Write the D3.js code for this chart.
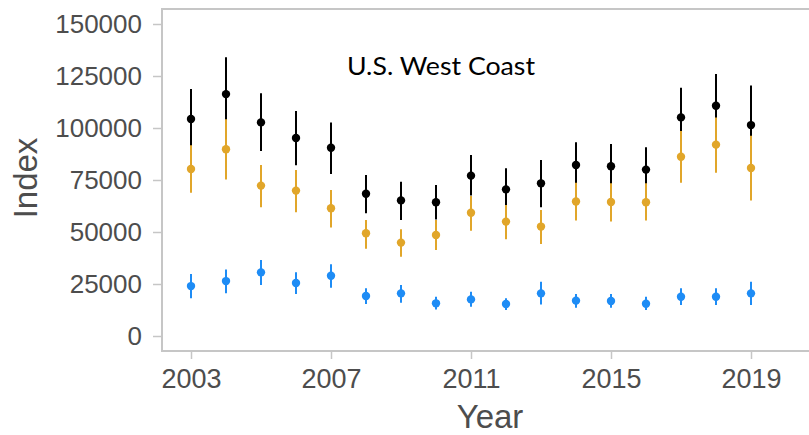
<!DOCTYPE html>
<html>
<head>
<meta charset="utf-8">
<script src="https://cdn.jsdelivr.net/npm/d3@7"></script>
<style>
  html, body { margin: 0; padding: 0; background: #fff; }
  svg { display: block; }
</style>
</head>
<body>
<svg id="chart" width="809" height="435"></svg>
<script>
const years = [2003, 2004, 2005, 2006, 2007, 2008, 2009, 2010, 2011, 2012, 2013, 2014, 2015, 2016, 2017, 2018, 2019];

const blackVal = [104300, 116300, 102700, 95200, 90500, 68400, 65200, 64300, 77100, 70500, 73400, 82200, 81600, 80000, 105100, 110700, 101400];
const blackHi  = [118800, 134000, 116700, 108200, 102700, 77400, 74200, 72600, 87000, 80600, 84600, 93100, 92300, 90700, 119400, 126000, 120400];
const blackLo  = [89900, 98600, 88900, 82100, 77900, 59000, 55800, 56000, 67500, 60400, 61900, 71300, 70800, 69300, 90900, 95500, 82500];

const goldVal = [80300, 89800, 72300, 69900, 61400, 49400, 44900, 48600, 59300, 55000, 52600, 64700, 64400, 64300, 86200, 92000, 80800];
const goldHi  = [91700, 104200, 82200, 79800, 70200, 55800, 51300, 55800, 67300, 63000, 60600, 73700, 73400, 73400, 98600, 105100, 96300];
const goldLo  = [68900, 75300, 61900, 59500, 52200, 42000, 38100, 41400, 50600, 46500, 44200, 55500, 55100, 55500, 73700, 78500, 65100];

const blueVal = [24000, 26400, 30600, 25500, 29000, 19200, 20500, 15700, 17600, 15400, 20500, 17000, 16800, 15500, 18900, 18900, 20500];
const blueHi  = [29800, 32000, 36500, 30600, 34500, 22900, 24500, 18900, 21300, 18100, 26100, 20200, 20200, 18900, 22900, 22900, 26100];
const blueLo  = [18100, 20500, 24500, 20200, 23200, 15400, 16000, 12800, 14100, 12500, 15200, 13600, 13600, 12500, 14900, 14900, 14900];

const xTicks = [2003, 2007, 2011, 2015, 2019];
const yTicks = [0, 25000, 50000, 75000, 100000, 125000, 150000];

const seriesList = [
  { name: "black", color: "#000000", val: blackVal, hi: blackHi, lo: blackLo },
  { name: "gold",  color: "#E1A62A", val: goldVal,  hi: goldHi,  lo: goldLo },
  { name: "blue",  color: "#1E8CF5", val: blueVal,  hi: blueHi,  lo: blueLo }
];

const svg = d3.select("#chart");
const panel = { left: 162, top: 9, right: 822, bottom: 351 };

const x = d3.scaleLinear().domain([2003, 2019]).range([191, 751]);
const y = d3.scaleLinear().domain([0, 150000]).range([336, 24]);

const axisColor = "#c6c6c6";
const textColor = "#4d4d4d";
const font = "'Liberation Sans', Arial, sans-serif";

// Panel border (left, top, bottom)
svg.append("path")
  .attr("d", `M${panel.right},${panel.top} H${panel.left} V${panel.bottom} H${panel.right}`)
  .attr("fill", "none")
  .attr("stroke", axisColor)
  .attr("stroke-width", 2);

// Y axis
const yAxis = svg.append("g")
  .attr("transform", `translate(${panel.left - 1},0)`)
  .call(d3.axisLeft(y).tickValues(yTicks).tickFormat(d3.format("d")).tickSize(8).tickPadding(11));
yAxis.select(".domain").remove();
yAxis.selectAll(".tick line").attr("stroke", axisColor).attr("stroke-width", 1.5);
yAxis.selectAll(".tick text")
  .attr("fill", textColor)
  .style("font-family", font)
  .style("font-size", "26px");

// X axis
const xAxis = svg.append("g")
  .attr("transform", `translate(0,${panel.bottom + 1})`)
  .call(d3.axisBottom(x).tickValues(xTicks).tickFormat(d3.format("d")).tickSize(7).tickPadding(10));
xAxis.select(".domain").remove();
xAxis.selectAll(".tick line").attr("stroke", axisColor).attr("stroke-width", 1.5);
xAxis.selectAll(".tick text")
  .attr("fill", textColor)
  .style("font-family", font)
  .style("font-size", "27px");

// Axis titles
svg.append("text")
  .attr("transform", `translate(37,178) rotate(-90)`)
  .attr("text-anchor", "middle")
  .attr("fill", textColor)
  .style("font-family", font)
  .style("font-size", "33px")
  .text("Index");

svg.append("text")
  .attr("x", 490)
  .attr("y", 428)
  .attr("text-anchor", "middle")
  .attr("fill", textColor)
  .style("font-family", font)
  .style("font-size", "33px")
  .text("Year");

// Annotation
svg.append("text")
  .attr("x", 347)
  .attr("y", 75)
  .attr("fill", "#000")
  .style("font-family", "Lato, 'Open Sans', sans-serif")
  .style("font-size", "25px")
  .attr("textLength", 188)
  .attr("lengthAdjust", "spacingAndGlyphs")
  .text("U.S. West Coast");

// Point ranges
seriesList.forEach(s => {
  const g = svg.append("g").attr("class", "series-" + s.name);
  const rows = years.map((yr, i) => ({ yr, v: s.val[i], hi: s.hi[i], lo: s.lo[i] }));
  g.selectAll("line")
    .data(rows)
    .join("line")
    .attr("x1", d => x(d.yr))
    .attr("x2", d => x(d.yr))
    .attr("y1", d => y(d.hi))
    .attr("y2", d => y(d.lo))
    .attr("stroke", s.color)
    .attr("stroke-width", 2);
  g.selectAll("circle")
    .data(rows)
    .join("circle")
    .attr("cx", d => x(d.yr))
    .attr("cy", d => y(d.v))
    .attr("r", 4.2)
    .attr("fill", s.color);
});
</script>
</body>
</html>
